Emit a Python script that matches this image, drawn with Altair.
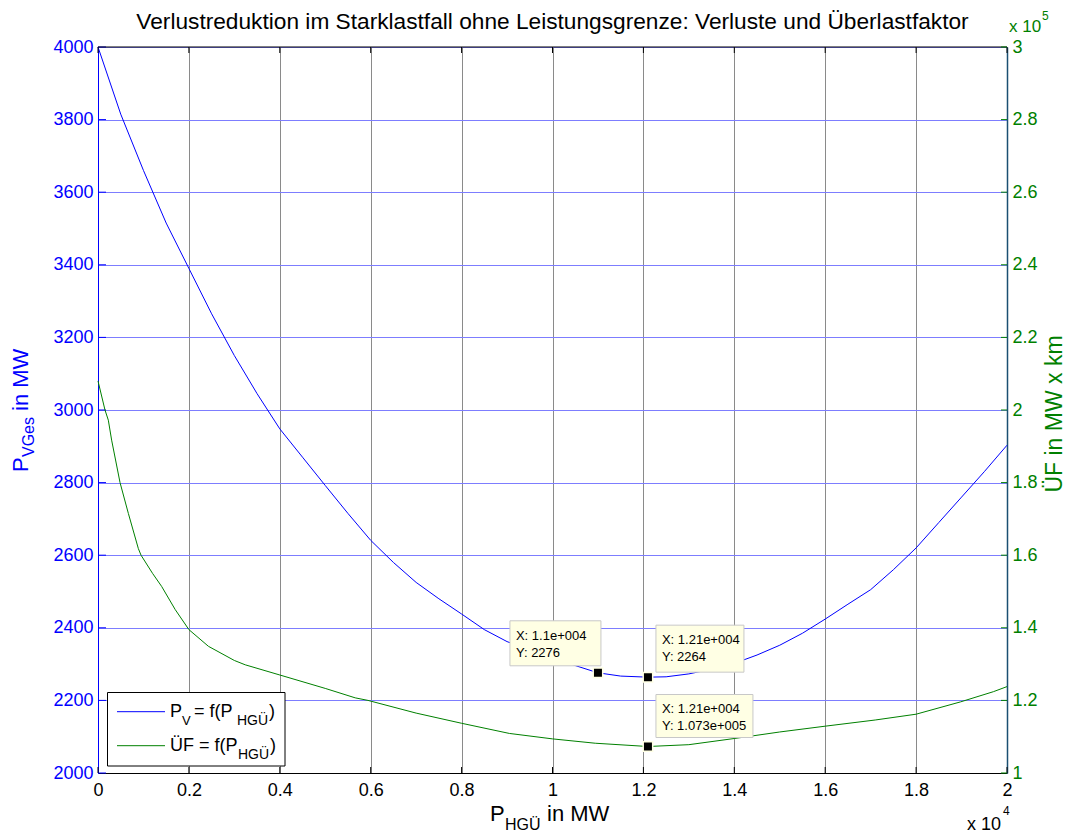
import altair as alt
import pandas as pd

FONT = "Liberation Sans"
BLUE = "#0000ff"
GREEN = "#008000"

TITLE = "Verlustreduktion im Starklastfall ohne Leistungsgrenze: Verluste und Überlastfaktor"

# P_HGÜ in MW  ->  P_VGes in MW (blue curve)
PV_X = [0, 500, 1000, 1500, 2000, 2500, 3000, 3500, 4000, 4500, 5000, 5500, 6000, 6500,
        7000, 7500, 8000, 8500, 9000, 9500, 10000, 10500, 11000, 11500, 12100, 12500,
        13000, 13500, 14000, 14500, 15000, 15500, 16000, 16500, 17000, 17500, 18000,
        18500, 19000, 19500, 20000]
PV_Y = [4000, 3815, 3660, 3515, 3390, 3265, 3150, 3045, 2948, 2870, 2792, 2715, 2641, 2580,
        2525, 2480, 2438, 2395, 2362, 2339, 2318, 2296, 2276, 2267, 2264, 2265,
        2273, 2286, 2302, 2325, 2352, 2385, 2424, 2465, 2505, 2560, 2620,
        2690, 2760, 2830, 2903]

# P_HGÜ in MW  ->  ÜF in MW x km (green curve)
UF_X = [0, 154, 227, 300, 485, 668, 888, 947, 1200, 1400, 1700, 2000, 2430, 3000, 3240,
        4000, 5000, 5660, 5940, 7000, 8000, 9050, 10000, 10940, 12100, 13000, 14000,
        15000, 16000, 17100, 18000, 18980, 19700, 20000]
UF_Y = [208000, 200000, 197200, 191700, 180000, 171500, 161800, 160000, 155000, 151400,
        145000, 139500, 134900, 131000, 129800, 127000, 123300, 120700, 120000, 116500,
        113700, 110900, 109400, 108200, 107300, 107800, 109500, 111300, 112900, 114600,
        116200, 119600, 122400, 123800]

# data tips
TIP_X = [11000, 12100, 12100]
TIP_Y = [2276, 2264, 107300]
TIP_AXIS = ["left", "left", "right"]

X_TICKS = [0, 2000, 4000, 6000, 8000, 10000, 12000, 14000, 16000, 18000, 20000]
LEFT_TICKS = [2000, 2200, 2400, 2600, 2800, 3000, 3200, 3400, 3600, 3800, 4000]
RIGHT_TICKS = [100000, 120000, 140000, 160000, 180000, 200000, 220000, 240000, 260000,
               280000, 300000]

W, H = 909, 726


def matlab_num(v):
    s = f"{v:.4g}"
    if "e" in s:
        m, e = s.split("e")
        s = f"{m}e{e[0]}{int(e[1:]):03d}"
    return s


xs = alt.Scale(domain=[0, 20000], nice=False, zero=False)
yls = alt.Scale(domain=[2000, 4000], nice=False, zero=False)
yrs = alt.Scale(domain=[100000, 300000], nice=False, zero=False)

x_axis = alt.Axis(values=X_TICKS, labelExpr="format(datum.value / 10000, '~g')",
                  grid=True, gridColor="#8a8a8a", gridWidth=1, ticks=False,
                  domainColor="black", domainWidth=1, labelColor="black",
                  labelFont=FONT, labelFontSize=18, labelPadding=8, labelFlush=False,
                  title=None)
yl_axis = alt.Axis(values=LEFT_TICKS, labelExpr="format(datum.value, 'd')",
                   grid=True, gridColor="#7d7dff", gridWidth=1,
                   ticks=False, domainColor=BLUE, domainWidth=1, labelColor=BLUE,
                   labelFont=FONT, labelFontSize=18, labelPadding=5, title=None)
yr_axis = alt.Axis(orient="right", values=RIGHT_TICKS,
                   labelExpr="format(datum.value / 100000, '~g')", grid=False,
                   ticks=False, domainColor="#1b4f72", domainWidth=1.5, labelColor=GREEN,
                   labelFont=FONT, labelFontSize=18, labelPadding=5, title=None)


def X(field="x"):
    return alt.X(f"{field}:Q", scale=xs, axis=x_axis)


def YL(field="y"):
    return alt.Y(f"{field}:Q", scale=yls, axis=yl_axis)


def YR(field="y"):
    return alt.Y(f"{field}:Q", scale=yrs, axis=yr_axis)


one = pd.DataFrame({"t": [""]})


def label(text, x, y, size, color="black", align="left", angle=0):
    return alt.Chart(pd.DataFrame({"t": [text]})).mark_text(
        font=FONT, fontSize=size, color=color, align=align, baseline="alphabetic",
        angle=angle
    ).encode(text="t:N", x=alt.value(x), y=alt.value(y))


# ---------- left-scale group ----------
blue_line = alt.Chart(pd.DataFrame({"x": PV_X, "y": PV_Y})).mark_line(
    color=BLUE, strokeWidth=1).encode(x=X(), y=YL())

left_ticks = alt.Chart(pd.DataFrame({"y": LEFT_TICKS})).mark_rule(
    color=BLUE, strokeWidth=1).encode(y=YL(), x=alt.value(0), x2=alt.value(8))

xt = pd.DataFrame({"x": X_TICKS})
x_ticks_top = alt.Chart(xt).mark_rule(color="black").encode(
    x=X(), y=alt.value(0), y2=alt.value(6))
x_ticks_bot = alt.Chart(xt).mark_rule(color="black").encode(
    x=X(), y=alt.value(H - 6), y2=alt.value(H))
top_border = alt.Chart(one).mark_rule(color="black", strokeWidth=1).encode(
    x=alt.value(0), x2=alt.value(W), y=alt.value(0))

# data-tip box geometry (pixel offsets relative to the marked point)
TIP_BOX = [(-88, 3, -52, -7), (8, 96, -52, -5), (8, 105, -52, -9)]
TIP_TXT = [(-82, -37, -20), (14, -37, -20), (14, -38, -21)]


def tip_layers(i):
    df = pd.DataFrame({"x": [TIP_X[i]], "y": [TIP_Y[i]],
                       "lx": ["X: " + matlab_num(TIP_X[i])],
                       "ly": ["Y: " + matlab_num(TIP_Y[i])]})
    Yc = YL if TIP_AXIS[i] == "left" else YR
    bx1, bx2, by1, by2 = TIP_BOX[i]
    tx, ty1, ty2 = TIP_TXT[i]
    box = alt.Chart(df).mark_rect(fill="#ffffe4", stroke="#c8c8c8", strokeWidth=1,
                                  xOffset=bx1, x2Offset=bx2, yOffset=by1, y2Offset=by2
                                  ).encode(x=X(), x2="x", y=Yc(), y2="y")
    t1 = alt.Chart(df).mark_text(font=FONT, fontSize=13, color="black", align="left",
                                 baseline="middle", dx=tx, dy=ty1).encode(
        x=X(), y=Yc(), text="lx:N")
    t2 = alt.Chart(df).mark_text(font=FONT, fontSize=13, color="black", align="left",
                                 baseline="middle", dx=tx, dy=ty2).encode(
        x=X(), y=Yc(), text="ly:N")
    mk = alt.Chart(df).mark_square(size=90, fill="black", stroke="#ffffe4", strokeWidth=1.5,
                                   opacity=1).encode(x=X(), y=Yc())
    return [box, t1, t2, mk]


left_group = alt.layer(
    blue_line, left_ticks, x_ticks_top, x_ticks_bot, top_border,
    *tip_layers(0), *tip_layers(1),
    label(TITLE, W / 2, -18, 22.7, align="center"),
    label("P", 392, 774, 22), label("HGÜ", 407, 783, 16), label("in MW", 449, 774, 22),
    label("x 10", 869, 783, 18), label("4", 905, 768, 12),
    label("P", -70, 425, 22, color=BLUE, angle=270),
    label("VGes", -64, 410, 16, color=BLUE, angle=270),
    label("in MW", -70, 364, 22, color=BLUE, angle=270),
)

# ---------- right-scale group ----------
green_line = alt.Chart(pd.DataFrame({"x": UF_X, "y": UF_Y})).mark_line(
    color=GREEN, strokeWidth=1).encode(x=X(), y=YR())

right_ticks = alt.Chart(pd.DataFrame({"y": RIGHT_TICKS})).mark_rule(
    color=GREEN, strokeWidth=1).encode(y=YR(), x=alt.value(W - 6), x2=alt.value(W))

legend_box = alt.Chart(one).mark_rect(fill="white", stroke="black", strokeWidth=1).encode(
    x=alt.value(9.5), x2=alt.value(187), y=alt.value(645.5), y2=alt.value(719))
legend_blue = alt.Chart(one).mark_rule(color=BLUE, strokeWidth=1).encode(
    x=alt.value(19), x2=alt.value(67), y=alt.value(664.7))
legend_green = alt.Chart(one).mark_rule(color=GREEN, strokeWidth=1).encode(
    x=alt.value(19), x2=alt.value(67), y=alt.value(698.7))

right_group = alt.layer(
    green_line, right_ticks, *tip_layers(2),
    label("x 10", 911, -15, 17, color=GREEN), label("5", 944, -27, 12, color=GREEN),
    label("ÜF in MW x km", 964, 367, 23, color=GREEN, align="center", angle=270),
    legend_box, legend_blue, legend_green,
    label("P", 72, 670, 18), label("V", 84, 678, 13), label("= f(P", 96, 670, 18),
    label("HGÜ", 139, 678, 14), label(")", 171, 670, 18),
    label("ÜF = f(P", 72, 704, 18), label("HGÜ", 140, 712, 14), label(")", 172, 704, 18),
)

chart = alt.layer(left_group, right_group).resolve_scale(y="independent").properties(
    width=W, height=H,
    autosize=alt.AutoSizeParams(type="none"),
    padding={"left": 98, "top": 47, "right": 1070 - 98 - W, "bottom": 833 - 47 - H},
    background="white",
).configure_view(stroke=None)

chart.save("out.html", embed_options={"renderer": "svg", "actions": False})
